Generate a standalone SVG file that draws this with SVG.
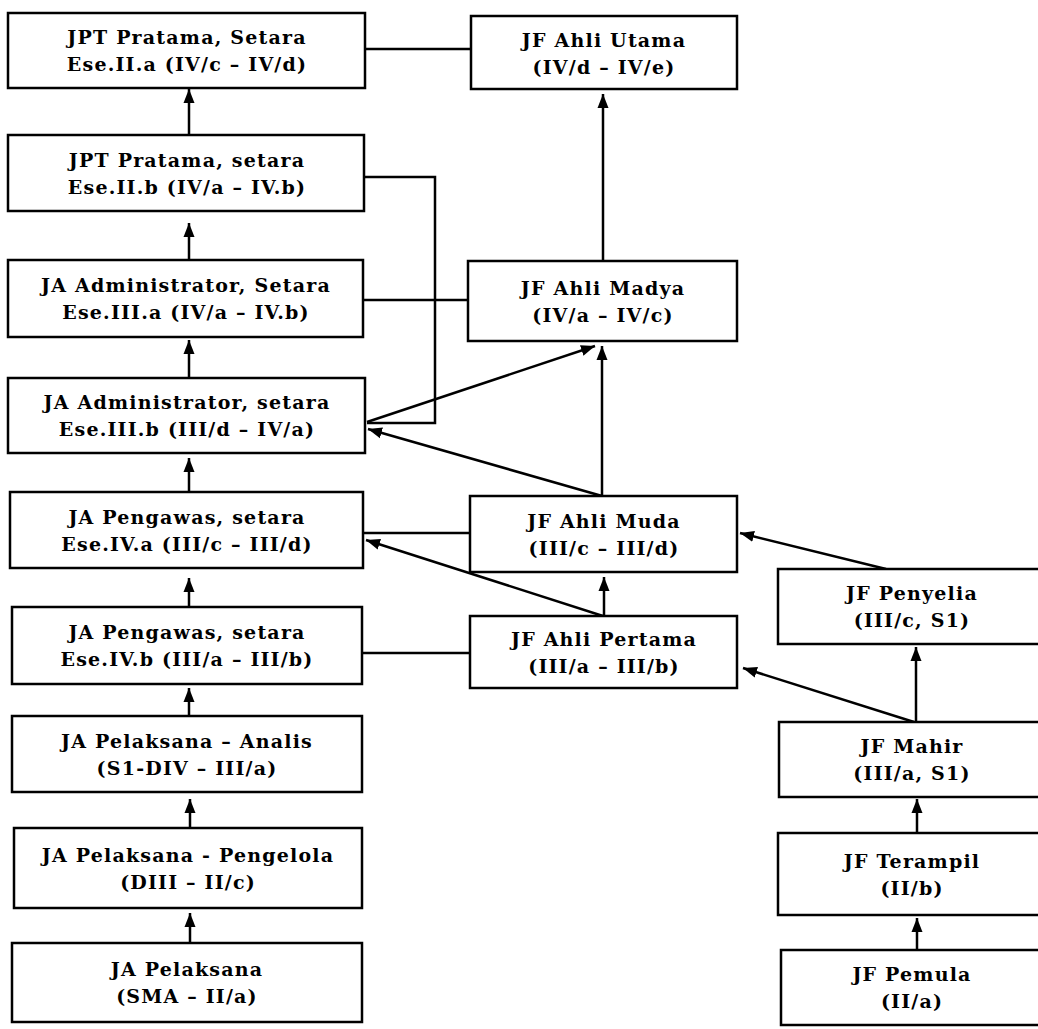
<svg xmlns="http://www.w3.org/2000/svg" width="1038" height="1029" viewBox="0 0 1038 1029">
<style>
.box{fill:#fff;stroke:#000;stroke-width:2.5}
.t{font-family:"DejaVu Serif",serif;font-weight:bold;font-size:19px;letter-spacing:1.2px;text-anchor:middle;fill:#000}
.c{fill:none;stroke:#000;stroke-width:2.5}
.a{fill:none;stroke:#000;stroke-width:2.5;marker-end:url(#ah)}
</style>
<defs>
<marker id="ah" markerUnits="userSpaceOnUse" markerWidth="16" markerHeight="12" refX="14" refY="6" orient="auto">
<path d="M0,0.5 L14,6 L0,11.5 z" fill="#000"/>
</marker>
</defs>
<rect width="1038" height="1029" fill="#fff"/>
<g id="connectors">
<line class="c" x1="365" y1="49" x2="471" y2="49"/>
<polyline class="c" points="364,177 435,177 435,423 367,423"/>
<line class="c" x1="363" y1="300" x2="468" y2="300"/>
<line class="c" x1="363" y1="533" x2="470" y2="533"/>
<line class="c" x1="362" y1="653" x2="470" y2="653"/>
<line class="a" x1="189" y1="135" x2="189" y2="89"/>
<line class="a" x1="189" y1="260" x2="189" y2="223"/>
<line class="a" x1="189" y1="378" x2="189" y2="340"/>
<line class="a" x1="189" y1="492" x2="189" y2="458"/>
<line class="a" x1="189" y1="607" x2="189" y2="578"/>
<line class="a" x1="189" y1="716" x2="189" y2="688"/>
<line class="a" x1="190" y1="828" x2="190" y2="799"/>
<line class="a" x1="190" y1="943" x2="190" y2="913"/>
<line class="a" x1="603" y1="261" x2="603" y2="94"/>
<line class="a" x1="367" y1="422" x2="595" y2="346"/>
<line class="a" x1="602" y1="496" x2="602" y2="346"/>
<line class="a" x1="602" y1="496" x2="368" y2="429"/>
<line class="a" x1="603" y1="616" x2="366" y2="540"/>
<line class="a" x1="604" y1="616" x2="604" y2="577"/>
<line class="a" x1="886" y1="569" x2="740" y2="533"/>
<line class="a" x1="916" y1="722" x2="916" y2="647"/>
<line class="a" x1="914" y1="722" x2="743" y2="668"/>
<line class="a" x1="917" y1="833" x2="917" y2="799"/>
<line class="a" x1="917" y1="950" x2="917" y2="918"/>
</g>
<g id="n-jpt-iia"><rect class="box" x="8" y="13" width="357" height="75"/><text class="t" x="187" y="44">JPT Pratama, Setara</text><text class="t" x="187" y="71">Ese.II.a (IV/c – IV/d)</text></g>
<g id="n-jpt-iib"><rect class="box" x="8" y="135" width="356" height="76"/><text class="t" x="187" y="167">JPT Pratama, setara</text><text class="t" x="187" y="194">Ese.II.b (IV/a – IV.b)</text></g>
<g id="n-adm-iiia"><rect class="box" x="8" y="260" width="355" height="77"/><text class="t" x="186" y="292">JA Administrator, Setara</text><text class="t" x="186" y="319">Ese.III.a (IV/a – IV.b)</text></g>
<g id="n-adm-iiib"><rect class="box" x="8" y="378" width="357" height="75"/><text class="t" x="187" y="409">JA Administrator, setara</text><text class="t" x="187" y="436">Ese.III.b (III/d – IV/a)</text></g>
<g id="n-peng-iva"><rect class="box" x="10" y="492" width="353" height="76"/><text class="t" x="187" y="524">JA Pengawas, setara</text><text class="t" x="187" y="551">Ese.IV.a (III/c – III/d)</text></g>
<g id="n-peng-ivb"><rect class="box" x="12" y="607" width="350" height="77"/><text class="t" x="187" y="639">JA Pengawas, setara</text><text class="t" x="187" y="666">Ese.IV.b (III/a – III/b)</text></g>
<g id="n-analis"><rect class="box" x="12" y="716" width="350" height="76"/><text class="t" x="187" y="748">JA Pelaksana – Analis</text><text class="t" x="187" y="775">(S1-DIV – III/a)</text></g>
<g id="n-pengelola"><rect class="box" x="14" y="828" width="348" height="80"/><text class="t" x="188" y="862">JA Pelaksana - Pengelola</text><text class="t" x="188" y="889">(DIII – II/c)</text></g>
<g id="n-pelaksana"><rect class="box" x="12" y="943" width="350" height="79"/><text class="t" x="187" y="976">JA Pelaksana</text><text class="t" x="187" y="1003">(SMA – II/a)</text></g>
<g id="n-utama"><rect class="box" x="471" y="16" width="266" height="73"/><text class="t" x="604" y="47">JF Ahli Utama</text><text class="t" x="604" y="74">(IV/d – IV/e)</text></g>
<g id="n-madya"><rect class="box" x="468" y="261" width="269" height="80"/><text class="t" x="603" y="295">JF Ahli Madya</text><text class="t" x="603" y="322">(IV/a – IV/c)</text></g>
<g id="n-muda"><rect class="box" x="470" y="496" width="267" height="76"/><text class="t" x="604" y="528">JF Ahli Muda</text><text class="t" x="604" y="555">(III/c – III/d)</text></g>
<g id="n-pertama"><rect class="box" x="470" y="616" width="267" height="72"/><text class="t" x="604" y="646">JF Ahli Pertama</text><text class="t" x="604" y="673">(III/a – III/b)</text></g>
<g id="n-penyelia"><rect class="box" x="778" y="569" width="270" height="75"/><text class="t" x="912" y="600">JF Penyelia</text><text class="t" x="912" y="627">(III/c, S1)</text></g>
<g id="n-mahir"><rect class="box" x="779" y="722" width="270" height="75"/><text class="t" x="912" y="753">JF Mahir</text><text class="t" x="912" y="780">(III/a, S1)</text></g>
<g id="n-terampil"><rect class="box" x="778" y="833" width="270" height="82"/><text class="t" x="912" y="868">JF Terampil</text><text class="t" x="912" y="895">(II/b)</text></g>
<g id="n-pemula"><rect class="box" x="781" y="950" width="270" height="75"/><text class="t" x="912" y="981">JF Pemula</text><text class="t" x="912" y="1008">(II/a)</text></g>
</svg>
